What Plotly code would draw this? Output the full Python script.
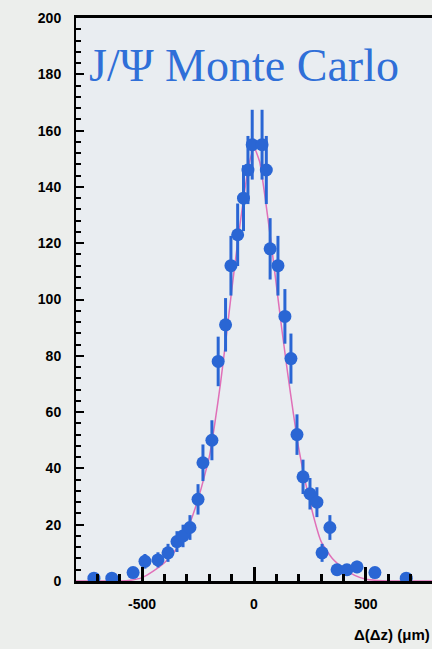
import plotly.graph_objects as go

# Data points (Δ(Δz) in µm, counts, error)
dz = [-715, -635, -540, -487, -429, -384, -344, -317, -286, -250, -228, -188,
      -160, -127, -103, -73, -47, -27, -8, 36, 55, 72, 107, 138, 165, 192,
      219, 250, 281, 304, 339, 371, 415, 460, 540, 680]
counts = [1, 1, 3, 7, 7.5, 10, 14, 16, 19, 29, 42, 50,
          78, 91, 112, 123, 136, 146, 155, 155, 146, 118, 112, 94, 79, 52,
          37, 31, 28, 10, 19, 4, 4, 5, 3, 1]
errors = [1, 1, 1.7, 2.6, 2.7, 3.2, 3.7, 4, 4.4, 5.4, 6.5, 7.1,
          8.8, 9.5, 10.6, 11.1, 11.7, 12.1, 12.4, 12.4, 12.1, 10.9, 10.6, 9.7, 8.9, 7.2,
          6.1, 5.6, 5.3, 3.2, 4.4, 2, 2, 2.2, 1.7, 1]

# Fit curve
fit_x = [-800, -600, -550, -500, -450, -400, -350, -300, -250, -200, -175, -150,
         -125, -100, -75, -50, -25, 0, 25, 50, 75, 100, 125, 150, 175, 200,
         250, 300, 350, 400, 450, 500, 550, 600, 800]
fit_y = [0, 0, 0.3, 1.2, 3.5, 6.5, 11, 18, 29, 44, 56, 70,
         86, 103, 119, 134, 147, 154, 149, 136, 121, 105, 89, 74, 60, 47,
         28, 14, 8, 4.5, 2, 0.6, 0.2, 0, 0]

x_ticks = [-500, 0, 500]
x_tick_text = ["-500", "0", "500"]
y_ticks = [0, 20, 40, 60, 80, 100, 120, 140, 160, 180, 200]

BLUE = "#2a66d4"
PINK = "#e070b8"

fig = go.Figure()
fig.add_trace(go.Scatter(
    x=fit_x, y=fit_y, mode="lines",
    line=dict(color=PINK, width=1.5, shape="spline", smoothing=0.5),
    hoverinfo="skip", showlegend=False))
fig.add_trace(go.Scatter(
    x=dz, y=counts, mode="markers",
    marker=dict(color=BLUE, size=13, line=dict(width=0)),
    error_y=dict(type="data", array=errors, color=BLUE, thickness=3, width=0),
    showlegend=False))

tickfont = dict(family="Liberation Sans", size=14, color="black", weight="bold")

fig.update_layout(
    width=432, height=649,
    margin=dict(l=76, r=0, t=18, b=68),
    paper_bgcolor="#eceeec",
    plot_bgcolor="#e9edf1",
    xaxis=dict(range=[-795, 795], tickvals=x_ticks, ticktext=x_tick_text,
               ticks="inside", ticklen=14,
               tickwidth=3, tickcolor="black", showline=True, linecolor="black",
               linewidth=3, mirror=True, showgrid=False, zeroline=False,
               tickfont=tickfont, ticklabelstandoff=8,
               minor=dict(ticks="inside", dtick=100, tick0=0, ticklen=7,
                          tickwidth=3, tickcolor="black", showgrid=False)),
    yaxis=dict(range=[0, 200], tickvals=y_ticks, ticks="inside", ticklen=8,
               tickwidth=2, tickcolor="black", showline=True, linecolor="black",
               linewidth=2, showgrid=False, zeroline=False,
               tickfont=tickfont, ticklabelstandoff=10,
               minor=dict(ticks="inside", dtick=4, tick0=0, ticklen=5,
                          tickwidth=1.5, tickcolor="black", showgrid=False)),
    annotations=[
        dict(text="J/Ψ Monte Carlo", xref="paper", yref="paper", x=0.03, y=0.915,
             xanchor="left", yanchor="middle", showarrow=False,
             font=dict(family="Liberation Serif", size=46, color="#2f6fd8")),
        dict(text="Δ(Δz) (μm)", xref="paper", yref="paper", x=1.0, y=-0.095,
             xanchor="right", yanchor="middle", showarrow=False,
             font=dict(family="Liberation Sans", size=15, color="black", weight="bold")),
    ],
)

fig.write_html("out.html")
